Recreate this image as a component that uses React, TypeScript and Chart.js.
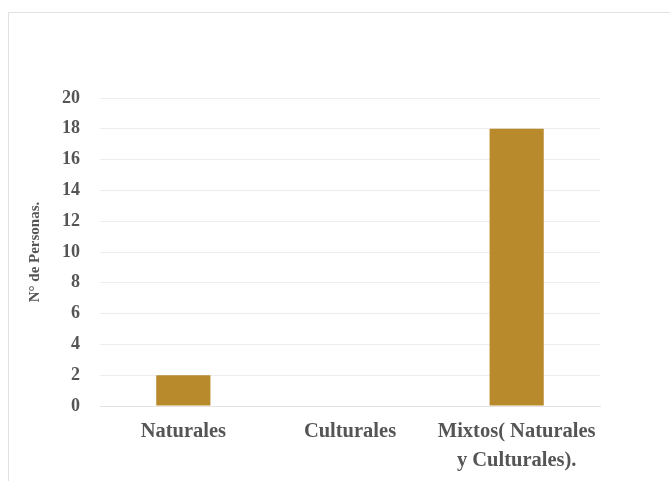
import React, { useEffect, useRef } from "react";
import { Chart, registerables } from "chart.js";

Chart.register(...registerables);

const categories: (string | string[])[] = ["Naturales", "Culturales", ["Mixtos( Naturales", "y Culturales)."]];
const personas: number[] = [2, 0, 18];
const yTitle = "N° de Personas.";

export default function App() {
  const ref = useRef<HTMLCanvasElement>(null);
  useEffect(() => {
    if (!ref.current) return;
    const chart = new Chart(ref.current, {
      type: "bar",
      data: {
        labels: categories,
        datasets: [
          {
            data: personas,
            backgroundColor: "#B98A2B",
            borderWidth: 0,
            barPercentage: 0.325,
            categoryPercentage: 1,
          },
        ],
      },
      options: {
        responsive: false,
        animation: false,
        devicePixelRatio: 1,
        layout: { padding: { top: 98, right: 70, left: 0, bottom: 0 } },
        plugins: { legend: { display: false }, tooltip: { enabled: false } },
        scales: {
          x: {
            grid: { display: false, drawTicks: false },
            border: { display: true, color: "#e3e3e3" },
            ticks: {
              color: "#555555",
              padding: 11,
              font: { family: "'Liberation Serif', 'Times New Roman', serif", size: 20.5, weight: "bold", lineHeight: 1.42 },
              maxRotation: 0,
              autoSkip: false,
            },
            afterFit: (s: any) => {
              s.height = 75;
            },
          },
          y: {
            min: 0,
            max: 20,
            grid: { color: "#ececec", drawTicks: false },
            border: { display: false },
            ticks: {
              stepSize: 2,
              color: "#555555",
              padding: 20,
              font: { family: "'Liberation Serif', 'Times New Roman', serif", size: 18, weight: "bold" },
            },
            title: {
              display: true,
              text: yTitle,
              color: "#555555",
              padding: { top: 26, bottom: 0 },
              font: { family: "'Liberation Serif', 'Times New Roman', serif", size: 15, weight: "bold" },
            },
            afterFit: (s: any) => {
              s.width = 100;
            },
          },
        },
      },
    });
    return () => chart.destroy();
  }, []);
  return (
    <div style={{ position: "fixed", left: 0, top: 0, width: 670, height: 481, background: "#fff" }}>
      <div style={{ position: "absolute", left: 8, top: 12, right: 0, bottom: 0, borderLeft: "1px solid #e2e2e2", borderTop: "1px solid #e2e2e2" }} />
      <canvas ref={ref} width={670} height={481} style={{ position: "absolute", left: 0, top: 0 }} />
    </div>
  );
}
